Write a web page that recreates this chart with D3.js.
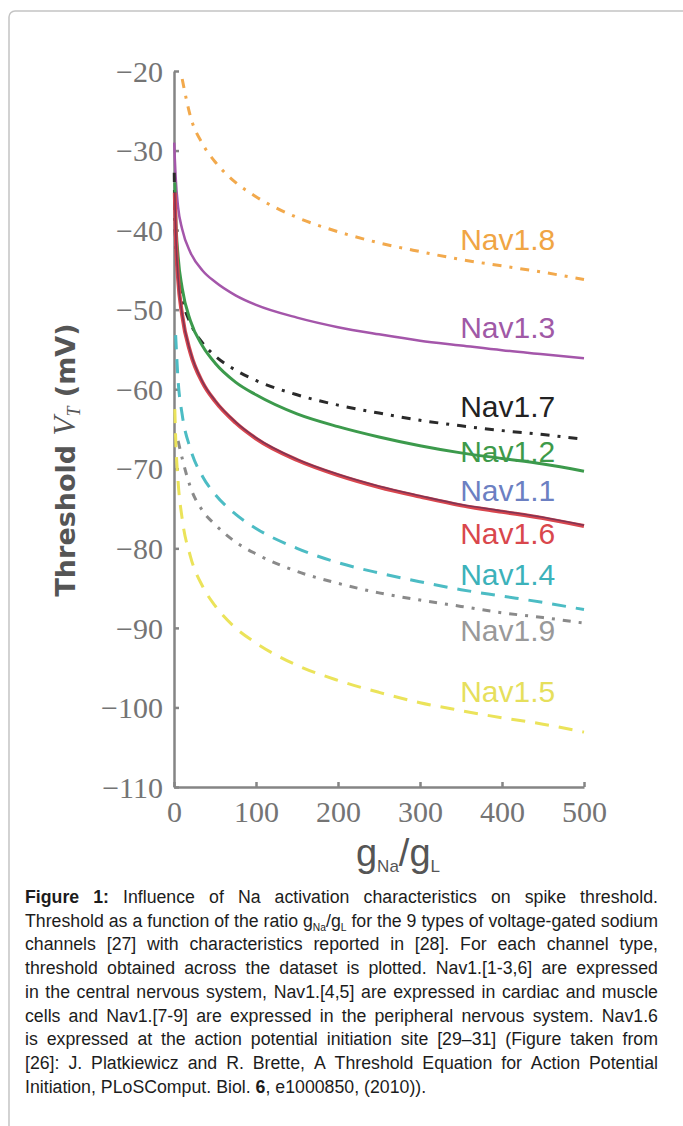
<!DOCTYPE html>
<html>
<head>
<meta charset="utf-8">
<script src="https://cdn.jsdelivr.net/npm/d3@7"></script>
<style>
  body { margin: 0; background: #fff; }
</style>
</head>
<body>
<script>
// threshold vs gNa/gL, one curve per sodium channel type
var gRatio = [0.3, 1, 2, 5, 10, 20, 35, 50, 75, 100, 150, 200, 250, 300, 350, 400, 450, 500];

var nav18 = [null, null, null, null, -21.0, -25.7, -29.2, -31.4, -34.0, -35.8, -38.4, -40.2, -41.6, -42.7, -43.7, -44.5, -45.3, -46.2];
var nav13 = [-29.0, -31.0, -33.3, -37.1, -39.9, -42.8, -45.1, -46.5, -48.2, -49.4, -51.0, -52.2, -53.1, -53.9, -54.5, -55.1, -55.6, -56.1];
var nav17 = [-32.8, -38.2, -41.3, -45.4, -48.6, -51.7, -54.2, -55.8, -57.6, -58.9, -60.7, -62.0, -63.0, -63.9, -64.6, -65.2, -65.7, -66.3];
var nav12 = [null, -34.0, -38.0, -43.3, -47.3, -51.4, -54.6, -56.7, -59.1, -60.7, -63.1, -64.7, -66.0, -67.1, -68.0, -68.7, -69.4, -70.3];
var nav11 = [null, -35.2, -39.8, -46.0, -50.6, -55.3, -59.1, -61.4, -64.1, -66.1, -68.8, -70.7, -72.2, -73.4, -74.5, -75.3, -76.1, -77.1];
var nav16 = [null, -35.3, -39.9, -46.1, -50.7, -55.4, -59.2, -61.5, -64.2, -66.2, -68.9, -70.8, -72.3, -73.5, -74.6, -75.4, -76.2, -77.2];
var nav14 = [null, null, -53.2, -58.9, -63.2, -67.5, -71.0, -73.2, -75.7, -77.5, -80.0, -81.8, -83.1, -84.2, -85.2, -86.0, -86.8, -87.7];
var nav19 = [null, null, null, -66.5, -68.7, -72.3, -75.3, -77.0, -79.2, -80.7, -82.9, -84.4, -85.6, -86.5, -87.3, -88.1, -88.7, -89.4];
var nav15 = [null, -62.5, -66.0, -71.6, -76.3, -81.0, -84.8, -87.2, -90.0, -91.9, -94.7, -96.6, -98.1, -99.4, -100.4, -101.3, -102.1, -103.1];

var channelNames = ['Nav1.8', 'Nav1.3', 'Nav1.7', 'Nav1.2', 'Nav1.1', 'Nav1.6', 'Nav1.4', 'Nav1.9', 'Nav1.5'];
var channelValues = [nav18, nav13, nav17, nav12, nav11, nav16, nav14, nav19, nav15];
// label baseline, in mV
var labelAt = [-42.5, -53.5, -63.5, -69.1, -74.1, -79.5, -84.6, -91.7, -99.3];
var labelG = 349;

var xTicks = [0, 100, 200, 300, 400, 500];
var yTicks = [-110, -100, -90, -80, -70, -60, -50, -40, -30, -20];

var caption = [
  '*Figure* *1:* Influence of Na activation characteristics on spike threshold.',
  'Threshold as a function of the ratio g_{Na}/g_{L} for the 9 types of voltage-gated sodium',
  'channels [27] with characteristics reported in [28]. For each channel type,',
  'threshold obtained across the dataset is plotted. Nav1.[1-3,6] are expressed',
  'in the central nervous system, Nav1.[4,5] are expressed in cardiac and muscle',
  'cells and Nav1.[7-9] are expressed in the peripheral nervous system. Nav1.6',
  'is expressed at the action potential initiation site [29\u201331] (Figure taken from',
  '[26]: J. Platkiewicz and R. Brette, A Threshold Equation for Action Potential',
  'Initiation, PLoSComput. Biol. *6*, e1000850, (2010)).'
];

// styles
var lineStyle = {
  'Nav1.8': { stroke: '#f2a94c', width: 3, dash: '9,8,3,8', label: '#f0a544' },
  'Nav1.3': { stroke: '#a456aa', width: 2.5, dash: null, label: '#a059a6' },
  'Nav1.7': { stroke: '#2a2a2a', width: 3, dash: '9,8,3,8', label: '#222' },
  'Nav1.2': { stroke: '#3c9a4c', width: 3, dash: null, label: '#3e9a4a' },
  'Nav1.1': { stroke: '#6a2f55', width: 1.6, dash: null, label: '#6c80c2' },
  'Nav1.6': { stroke: '#d8464e', width: 4, dash: null, label: '#d9474c' },
  'Nav1.4': { stroke: '#4cbcc4', width: 3, dash: '14,10', label: '#3cb2ba' },
  'Nav1.9': { stroke: '#8a8a8a', width: 3, dash: '8,8,3,8', label: '#999' },
  'Nav1.5': { stroke: '#ebe35a', width: 3, dash: '14,10', label: '#e6df5c' }
};
var drawOrder = ['Nav1.8', 'Nav1.3', 'Nav1.7', 'Nav1.2', 'Nav1.6', 'Nav1.1', 'Nav1.4', 'Nav1.9', 'Nav1.5'];

var svg = d3.select('body').append('svg')
  .attr('width', 683)
  .attr('height', 1126);

// page frame
svg.append('rect')
  .attr('x', 9).attr('y', 11)
  .attr('width', 720).attr('height', 1200)
  .attr('rx', 6)
  .style('fill', 'none')
  .style('stroke', '#c4c4c4')
  .style('stroke-width', 1.5);

var x = d3.scaleLinear().domain([0, 500]).range([174, 584]);
var y = d3.scaleLinear().domain([-110, -20]).range([787, 71]);

var xAxis = svg.append('g')
  .attr('transform', 'translate(0,' + y(-110) + ')')
  .call(d3.axisBottom(x).tickValues(xTicks).tickSizeInner(-5).tickSizeOuter(0));
xAxis.selectAll('text').attr('y', 35).attr('dy', 0);

var yAxis = svg.append('g')
  .attr('transform', 'translate(' + x(0) + ',0)')
  .call(d3.axisLeft(y).tickValues(yTicks).tickSizeInner(-5).tickSizeOuter(0));
yAxis.selectAll('text').attr('x', -11).attr('dy', '0.34em');

svg.selectAll('.domain, .tick line')
  .style('stroke', '#858585')
  .style('stroke-width', 2.5);
svg.selectAll('.tick text')
  .style('font-family', '"Liberation Serif", "DejaVu Serif", serif')
  .style('font-size', '30px')
  .style('fill', '#747474');

// axis titles
var yTitle = svg.append('text')
  .attr('transform', 'translate(75,460) rotate(-90)')
  .attr('text-anchor', 'middle')
  .style('fill', '#555');
yTitle.append('tspan').style('font-family', '"DejaVu Sans", sans-serif')
  .style('font-weight', 'bold').style('font-size', '27px').text('Threshold ');
yTitle.append('tspan').style('font-family', '"Liberation Serif", serif')
  .style('font-style', 'italic').style('font-size', '31px').text('V');
yTitle.append('tspan').style('font-family', '"Liberation Serif", serif')
  .style('font-style', 'italic').style('font-size', '18px').attr('dy', 5).text('T');
yTitle.append('tspan').style('font-family', '"DejaVu Sans", sans-serif')
  .style('font-weight', 'bold').style('font-size', '27px').attr('dy', -5).text(' (mV)');

var xTitle = svg.append('text')
  .attr('x', 398).attr('y', 866)
  .attr('text-anchor', 'middle')
  .style('font-family', '"Liberation Sans", Arial, sans-serif')
  .style('fill', '#555');
xTitle.append('tspan').style('font-size', '38px').text('g');
xTitle.append('tspan').style('font-size', '17px').attr('dy', 6).text('Na');
xTitle.append('tspan').style('font-size', '38px').attr('dy', -6).text('/g');
xTitle.append('tspan').style('font-size', '17px').attr('dy', 6).text('L');

// curve labels (under the lines)
svg.selectAll('.chan-label')
  .data(channelNames)
  .enter().append('text')
  .attr('class', 'chan-label')
  .attr('x', x(labelG))
  .attr('y', function(d, i) { return y(labelAt[i]); })
  .style('font-family', '"Liberation Sans", Arial, sans-serif')
  .style('font-size', '30px')
  .style('fill', function(d) { return lineStyle[d].label; })
  .text(function(d) { return d; });

var line = d3.line()
  .defined(function(d) { return d[1] !== null; })
  .x(function(d) { return x(d[0]); })
  .y(function(d) { return y(d[1]); })
  .curve(d3.curveMonotoneX);

drawOrder.forEach(function(name) {
  var vals = channelValues[channelNames.indexOf(name)];
  var st = lineStyle[name];
  var pts = gRatio.map(function(g, i) { return [g, vals[i]]; });
  svg.append('path')
    .datum(pts)
    .attr('d', line)
    .style('fill', 'none')
    .style('stroke', st.stroke)
    .style('stroke-width', st.width)
    .style('stroke-dasharray', st.dash)
    .style('opacity', name === 'Nav1.1' ? 0.8 : 1);
});

// caption, justified
var capLeft = 25, capRight = 658, capTop = 903, capLine = 23.7, capSize = 19;

var addWord = function(parent, word) {
  var t = parent.append('text').style('font-size', capSize + 'px');
  var parts = word.split(/(\*[^*]+\*|_\{[^}]+\})/).filter(function(p) { return p.length; });
  var down = false;
  parts.forEach(function(p) {
    if (p[0] === '*') {
      t.append('tspan').style('font-weight', 'bold').text(p.slice(1, -1));
    } else if (p[0] === '_') {
      t.append('tspan').style('font-size', '11px').attr('dy', down ? 0 : 4).text(p.slice(2, -1));
      down = true;
    } else {
      var s = t.append('tspan').text(p);
      if (down) { s.attr('dy', -4); down = false; }
    }
  });
  return t;
};

var capRows = caption.map(function(txt, i) {
  var g = svg.append('g')
    .style('font-family', '"Liberation Sans", Arial, sans-serif')
    .style('fill', '#1c1c1c');
  var words = txt.split(' ').map(function(w) { return addWord(g, w); });
  var widths = words.map(function(w) { return w.node().getComputedTextLength(); });
  return { g: g, words: words, widths: widths };
});

var spaceW = capSize * 0.278;
var natural = capRows.map(function(r) {
  return d3.sum(r.widths) + spaceW * (r.widths.length - 1);
});
var sx = (capRight - capLeft) / d3.max(natural.slice(0, -1));

capRows.forEach(function(r, i) {
  var avail = (capRight - capLeft) / sx;
  var gap = spaceW;
  if (i < capRows.length - 1) gap = (avail - d3.sum(r.widths)) / (r.widths.length - 1);
  var pos = 0;
  r.words.forEach(function(w, j) {
    w.attr('x', pos);
    pos += r.widths[j] + gap;
  });
  r.g.attr('transform', 'translate(' + capLeft + ',' + (capTop + i * capLine) + ') scale(' + sx + ',1)');
});
</script>
</body>
</html>
